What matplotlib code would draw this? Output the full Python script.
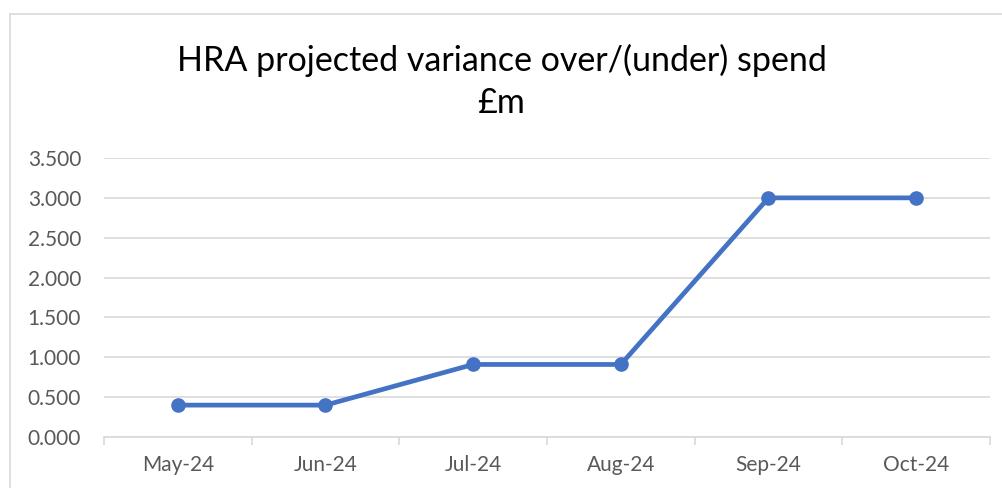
import matplotlib.pyplot as plt
from matplotlib.lines import Line2D
import numpy as np

months = ['May-24', 'Jun-24', 'Jul-24', 'Aug-24', 'Sep-24', 'Oct-24']
variance = [0.40, 0.40, 0.91, 0.91, 3.00, 3.00]
y_ticks = [0.0, 0.5, 1.0, 1.5, 2.0, 2.5, 3.0, 3.5]

plt.rcParams['font.family'] = ['Lato', 'DejaVu Sans']

fig = plt.figure(figsize=(10.03, 4.88), dpi=100)
ax = fig.add_axes([104 / 1003, 1 - 437 / 488, 886 / 1003, 279 / 488])

x = np.arange(len(months))
ax.plot(x, variance, color='#4472C4', linewidth=3.4, marker='o',
        markersize=9.5, solid_capstyle='round', zorder=3)

ax.set_xlim(-0.5, len(months) - 0.5)
ax.set_ylim(0, 3.5)
ax.set_yticks(y_ticks)
ax.set_yticklabels([f'{v:.3f}' for v in y_ticks])
ax.set_xticks(x)
ax.set_xticklabels(months)
ax.set_xticks(np.arange(-0.5, len(months)), minor=True)

ax.grid(axis='y', color='#D9D9D9', linewidth=1.2)
ax.set_axisbelow(True)
for side in ['top', 'right', 'left']:
    ax.spines[side].set_visible(False)
ax.spines['bottom'].set_color('#D9D9D9')
ax.spines['bottom'].set_linewidth(1.2)

ax.tick_params(axis='y', length=0, pad=16.5, labelsize=15, labelcolor='#595959')
ax.tick_params(axis='x', which='major', length=0, pad=13, labelsize=15,
               labelcolor='#595959')
ax.tick_params(axis='x', which='minor', length=6, width=1.2, color='#D9D9D9')

fig.text(0.5, 1 - 60 / 488, 'HRA projected variance over/(under) spend',
         ha='center', va='center', fontsize=24.5, color='black')
fig.text(0.5, 1 - 103 / 488, '£m', ha='center', va='center',
         fontsize=24.5, color='black')

# chart border (Excel-style frame, cropped at right and bottom)
fig.add_artist(Line2D([10 / 1003, 1], [1 - 14 / 488] * 2, color='#D9D9D9',
                      linewidth=1.2, transform=fig.transFigure))
fig.add_artist(Line2D([10 / 1003] * 2, [0, 1 - 14 / 488], color='#D9D9D9',
                      linewidth=1.2, transform=fig.transFigure))

fig.savefig('out.png', dpi=100)
